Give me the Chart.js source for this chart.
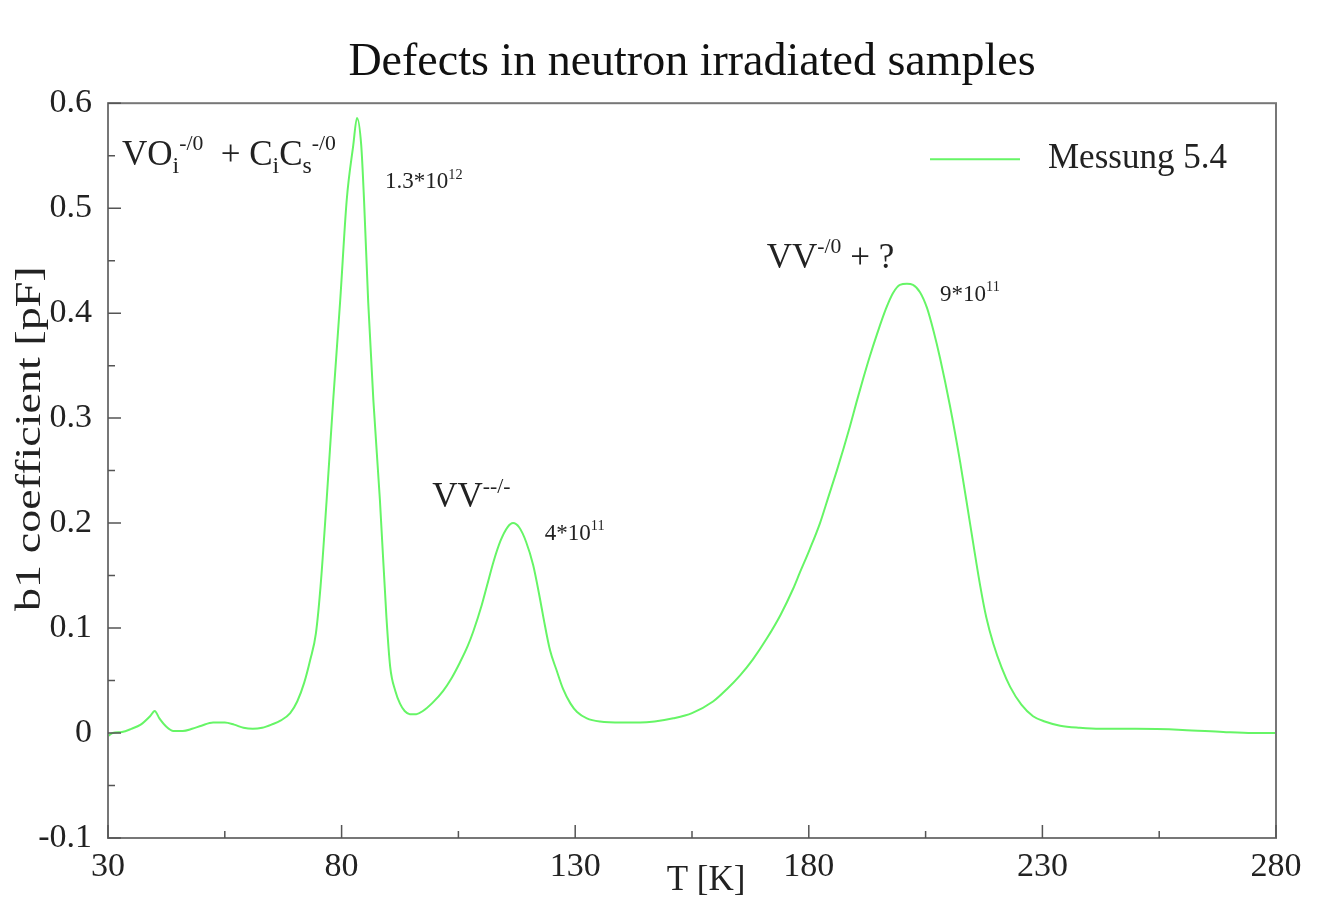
<!DOCTYPE html>
<html>
<head>
<meta charset="utf-8">
<title>Defects in neutron irradiated samples</title>
<script src="https://cdn.jsdelivr.net/npm/chart.js@4.4.1/dist/chart.umd.min.js"></script>
<style>
  html, body { margin: 0; padding: 0; background: #fff; }
  #wrap { width: 1318px; height: 898px; }
</style>
</head>
<body>
<div id="wrap"><canvas id="dltsChart"></canvas></div>
<script>
// T [K] and b1 coefficient [pF]
const temperatures = [
  30, 31, 33, 35, 37, 39, 40, 41, 42.5, 44, 46, 48, 50, 52.5, 55, 57, 59, 61, 63, 65, 67, 69,
  70.5, 72, 73.3, 74.5, 75.5, 76.8, 78.2, 79.7, 81.1, 82.5, 83.3, 84.2, 84.8, 85.7, 86.8, 88.2,
  89.6, 90.4, 91.5, 92.5, 93.5, 94.6, 96, 97.4, 99.5, 101.7, 103.5, 105.3, 107, 108.2, 110,
  111.1, 112.5, 114, 115.5, 116.7, 118, 119.5, 121, 122.5, 123.2, 124.6, 126, 127.4, 129, 130.4,
  132.5, 135.3, 140, 143.9, 147, 151, 155, 159.5, 162.5, 165.3, 168, 171, 174, 176.6, 178.1,
  180.2, 182.4, 184.2, 186, 187.5, 188.8, 190.2, 191.6, 193, 194.6, 196.5, 198, 199.5, 201,
  202.3, 203.8, 205.3, 206.7, 208.1, 210.2, 212.4, 214.5, 216.7, 218, 219.5, 221.3, 223.1,
  225.5, 228, 230.5, 233.8, 238, 242.3, 250, 260, 268.7, 275, 280
];
const b1Values = [
  -0.003, 0.0, 0.001, 0.004, 0.008, 0.016, 0.021, 0.014, 0.006, 0.002, 0.002, 0.004, 0.007, 0.010, 0.010, 0.008, 0.005, 0.004, 0.005, 0.008, 0.012, 0.019,
  0.030, 0.048, 0.070, 0.095, 0.140, 0.222, 0.317, 0.412, 0.508, 0.560, 0.586, 0.560, 0.508, 0.410, 0.317, 0.222,
  0.110, 0.063, 0.040, 0.028, 0.021, 0.018, 0.018, 0.021, 0.029, 0.040, 0.052, 0.067, 0.083, 0.097, 0.122,
  0.140, 0.163, 0.183, 0.196, 0.200, 0.196, 0.182, 0.160, 0.127, 0.110, 0.079, 0.060, 0.042, 0.028, 0.020,
  0.014, 0.011, 0.010, 0.010, 0.011, 0.014, 0.019, 0.030, 0.042, 0.055, 0.070, 0.090, 0.113, 0.137, 0.153,
  0.175, 0.200, 0.225, 0.250, 0.272, 0.292, 0.315, 0.337, 0.358, 0.380, 0.404, 0.419, 0.427, 0.428,
  0.427, 0.420, 0.405, 0.383, 0.357, 0.312, 0.258, 0.200, 0.140, 0.110, 0.085, 0.062, 0.044,
  0.027, 0.016, 0.011, 0.007, 0.005, 0.004, 0.004, 0.003, 0.001, 0.0, 0.0
];
const xTickValues = [30, 80, 130, 180, 230, 280];
const xMinorTicks = [55, 105, 155, 205, 255];
const yTickValues = [-0.1, 0, 0.1, 0.2, 0.3, 0.4, 0.5, 0.6];
const yMinorTicks = [-0.05, 0.05, 0.15, 0.25, 0.35, 0.45, 0.55];
const seriesLabel = 'Messung 5.4';
const xTitle = 'T [K]';
const yTitle = 'b1 coefficient [pF]';

// peak labels, anchored in data units; parts: n = normal, sub, sup
const peakNotes = [
  { T: 33.0, v: 0.541, size: 35, parts: [['VO', 'n'], ['i', 'sub'], ['-/0', 'sup'], ['  + C', 'n'], ['i', 'sub'], ['C', 'n'], ['s', 'sub'], ['-/0', 'sup']] },
  { T: 89.3, v: 0.519, size: 23, parts: [['1.3*10', 'n'], ['12', 'sup']] },
  { T: 99.4, v: 0.215, size: 35, parts: [['VV', 'n'], ['--/-', 'sup']] },
  { T: 123.5, v: 0.184, size: 23, parts: [['4*10', 'n'], ['11', 'sup']] },
  { T: 171.0, v: 0.443, size: 35, parts: [['VV', 'n'], ['-/0', 'sup'], [' + ?', 'n']] },
  { T: 208.1, v: 0.412, size: 23, parts: [['9*10', 'n'], ['11', 'sup']] }
];

const serif = '"Liberation Serif", "Times New Roman", serif';
const lineColor = 'rgb(102, 245, 102)';

function drawRich(ctx, x, y, parts, size) {
  ctx.textAlign = 'left';
  ctx.textBaseline = 'alphabetic';
  let cx = x;
  parts.forEach(([t, kind]) => {
    let fs = size, dy = 0;
    if (kind === 'sub') { fs = size * 0.68; dy = size * 0.22; }
    if (kind === 'sup') { fs = size * 0.62; dy = -size * 0.42; }
    ctx.font = fs + 'px ' + serif;
    ctx.fillText(t, cx, y + dy);
    cx += ctx.measureText(t).width;
  });
}

const framePlugin = {
  id: 'framePlugin',
  afterDatasetsDraw(chart) {
    const { ctx, chartArea: a, scales: { x, y } } = chart;
    ctx.save();
    // box
    ctx.strokeStyle = '#777';
    ctx.lineWidth = 2;
    ctx.strokeRect(a.left, a.top, a.right - a.left, a.bottom - a.top);
    // inward ticks
    ctx.strokeStyle = '#555';
    ctx.lineWidth = 1.5;
    ctx.beginPath();
    xTickValues.forEach(v => { const px = x.getPixelForValue(v); ctx.moveTo(px, a.bottom); ctx.lineTo(px, a.bottom - 13); });
    xMinorTicks.forEach(v => { const px = x.getPixelForValue(v); ctx.moveTo(px, a.bottom); ctx.lineTo(px, a.bottom - 7); });
    yTickValues.forEach(v => { const py = y.getPixelForValue(v); ctx.moveTo(a.left, py); ctx.lineTo(a.left + 13, py); });
    yMinorTicks.forEach(v => { const py = y.getPixelForValue(v); ctx.moveTo(a.left, py); ctx.lineTo(a.left + 7, py); });
    ctx.stroke();

    // axis titles (slightly off-centre, as in the original)
    ctx.fillStyle = '#222';
    ctx.textAlign = 'center';
    ctx.textBaseline = 'middle';
    ctx.font = '35px ' + serif;
    ctx.fillText(xTitle, (a.left + a.right) / 2 + 14, a.bottom + 43);
    ctx.save();
    ctx.translate(a.left - 77, (a.top + a.bottom) / 2 - 32);
    ctx.rotate(-Math.PI / 2);
    ctx.scale(1.28, 1);
    ctx.font = '36px ' + serif;
    ctx.fillText(yTitle, 0, 0);
    ctx.restore();

    // legend inside the plot, top right
    const ly = a.top + 56;
    ctx.strokeStyle = lineColor;
    ctx.lineWidth = 2;
    ctx.beginPath();
    ctx.moveTo(a.right - 346, ly);
    ctx.lineTo(a.right - 256, ly);
    ctx.stroke();
    ctx.fillStyle = '#222';
    ctx.font = '35px ' + serif;
    ctx.textAlign = 'left';
    ctx.textBaseline = 'middle';
    ctx.fillText(chart.data.datasets[0].label, a.right - 228, ly);

    // peak notes
    peakNotes.forEach(n => drawRich(ctx, x.getPixelForValue(n.T), y.getPixelForValue(n.v), n.parts, n.size));
    ctx.restore();
  }
};

const ctx = document.getElementById('dltsChart').getContext('2d');
new Chart(ctx, {
  type: 'scatter',
  data: {
    datasets: [{
      label: seriesLabel,
      data: temperatures.map((t, i) => ({ x: t, y: b1Values[i] })),
      showLine: true,
      borderColor: lineColor,
      borderWidth: 2,
      pointRadius: 0,
      cubicInterpolationMode: 'monotone',
      fill: false
    }]
  },
  options: {
    responsive: true,
    maintainAspectRatio: false,
    animation: false,
    devicePixelRatio: 1,
    layout: { padding: { left: 0, right: 42, top: 0, bottom: 0 } },
    plugins: {
      legend: { display: false },
      tooltip: { enabled: false },
      title: {
        display: true,
        fullSize: false,
        text: 'Defects in neutron irradiated samples',
        color: '#111',
        font: { family: serif, size: 46, weight: 'normal', lineHeight: 1.2 },
        padding: { top: 35, bottom: 13 }
      }
    },
    scales: {
      x: {
        type: 'linear',
        min: 30,
        max: 280,
        afterBuildTicks: s => { s.ticks = xTickValues.map(v => ({ value: v })); },
        afterFit: s => { s.height = 60; },
        grid: { display: false },
        border: { display: false },
        ticks: { color: '#222', padding: 1, maxRotation: 0, autoSkip: false, font: { family: serif, size: 34 } }
      },
      y: {
        min: -0.1,
        max: 0.6,
        afterBuildTicks: s => { s.ticks = yTickValues.map(v => ({ value: v })); },
        afterFit: s => { s.width = 108; },
        grid: { display: false },
        border: { display: false },
        ticks: {
          color: '#222', padding: 8, font: { family: serif, size: 34 },
          callback: v => (Math.abs(v) < 1e-9 ? '0' : String(+v.toFixed(1)))
        }
      }
    }
  },
  plugins: [framePlugin]
});
</script>
</body>
</html>
